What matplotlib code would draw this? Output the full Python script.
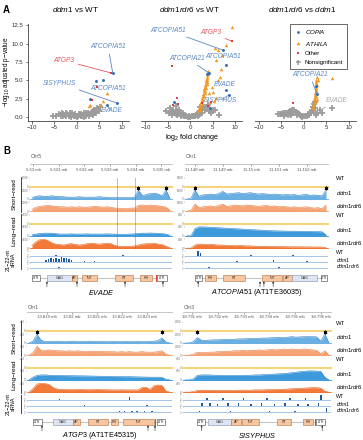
import numpy as np
import matplotlib
matplotlib.use('Agg')
import matplotlib.pyplot as plt
from matplotlib.patches import Rectangle
from matplotlib.lines import Line2D

plt.rcParams['font.family'] = ['Liberation Sans', 'DejaVu Sans']
plt.rcParams['mathtext.fontset'] = 'custom'
plt.rcParams['mathtext.rm'] = 'Liberation Sans'
plt.rcParams['mathtext.it'] = 'Liberation Sans:italic'

# ---------------- Panel A data ----------------
p1_copia_x = [8.0, 4.2, 5.8, 2.9, 6.6, 8.9]
p1_copia_y = [6.0, 4.9, 5.0, 2.5, 1.6, 1.9]
p1_athila_x = [6.7, 5.8, 5.3, 3.0, 2.8]
p1_athila_y = [3.3, 2.2, 1.6, 1.6, 1.5]
p1_other_x = [7.6, 4.4, 3.4]
p1_other_y = [6.0, 4.1, 2.3]
p1_gray_x = [-4.6, -4.0, -3.6, -3.2, -3.0, -2.7, -2.4, -2.1, -1.8, -1.5, -1.2, -0.9, -0.6, -0.3, 0.0, 0.3,
             0.6, 0.9, 1.2, 1.5, 1.8, 2.1, 2.4, 2.7, 3.0, 3.3, 3.6, 3.9, 4.2, 4.5, 4.8, 5.1, -2.5, -1.5,
             -0.5, 0.5, 1.5, 2.5, 3.5, -3.4, 2.0, 3.8, 4.4, 4.9, -1.0, 1.0, -5.4]
p1_gray_y = [0.15, 0.35, 0.2, 0.45, 0.1, 0.3, 0.15, 0.4, 0.1, 0.25, 0.05, 0.3, 0.1, 0.2, 0.05, 0.15,
             0.3, 0.1, 0.2, 0.05, 0.3, 0.15, 0.4, 0.2, 0.35, 0.5, 0.3, 0.7, 0.6, 0.9, 1.1, 1.4, 0.55, 0.5,
             0.45, 0.4, 0.5, 0.55, 0.8, 0.6, 0.6, 1.0, 1.2, 0.8, 0.55, 0.45, 0.1]

p2_copia_x = [7.3, 8.0, 4.1, 3.8, 8.0, 8.6, -3.6, 4.3]
p2_copia_y = [9.1, 7.1, 6.0, 5.8, 3.7, 3.0, 2.0, 1.2]
p2_athila_x = [9.3, 8.0, 5.7, 6.1, 5.5, 7.0, 6.6, 6.1, 4.8, 5.0, 5.7, 5.2, 4.3, 4.1, 6.8,
               1.8, 2.0, 2.2, 2.4, 2.5, 2.6, 2.8, 2.9, 3.0, 3.1, 3.2, 3.3, 3.4, 3.5, 3.6, 3.7, 3.9,
               2.3, 2.7, 3.0, 3.2, 3.4, 3.6, 3.8, 4.0, 2.1, 2.5, 2.9, 3.3, 3.7]
p2_athila_y = [12.2, 9.8, 7.7, 9.1, 9.4, 8.4, 5.4, 5.0, 4.1, 3.4, 2.6, 2.2, 2.0, 3.3, 6.5,
               0.8, 1.2, 1.6, 2.0, 2.3, 2.6, 2.9, 3.2, 3.5, 3.8, 4.1, 4.4, 4.7, 5.0, 5.3, 5.6, 5.9,
               1.4, 2.2, 2.8, 3.3, 3.9, 4.5, 5.1, 6.3, 0.9, 1.8, 2.5, 3.6, 4.8]
p2_other_x = [9.3, -4.1, -3.0, -3.9, -2.7, 2.5, 3.9, 4.5]
p2_other_y = [10.3, 6.9, 2.6, 1.6, 1.8, 1.9, 1.5, 2.0]
p2_gray_x = [-5.5, -4.8, -4.5, -4.2, -3.8, -3.5, -3.3, -3.0, -2.7, -2.4, -2.1, -1.8, -1.5, -1.2, -0.9,
             -0.6, -0.3, 0.0, 0.3, 0.6, 0.9, 1.2, 1.5, 1.8, 2.1, 2.4, 2.7, 3.0, 3.3, 3.6, 3.9, 4.2,
             4.6, 5.0, -4.0, -3.0, -2.0, -1.0, 1.0, 2.0, -2.6, 2.6, 5.5, 6.3, -3.3, 1.6, 2.2, -1.6]
p2_gray_y = [0.8, 0.5, 1.2, 0.7, 0.9, 0.6, 1.5, 0.8, 0.6, 0.5, 0.4, 0.3, 0.2, 0.15, 0.1,
             0.05, 0.1, 0.05, 0.1, 0.15, 0.2, 0.3, 0.4, 0.6, 0.8, 1.0, 1.2, 1.3, 1.0, 1.4, 1.6, 0.8,
             0.5, 1.0, 0.3, 0.3, 0.2, 0.1, 0.1, 0.3, 1.0, 0.5, 1.0, 0.3, 0.4, 0.15, 1.3, 0.6]

p3_copia_x = [2.9, 2.7]
p3_copia_y = [3.1, 4.2]
p3_athila_x = [6.2, 2.0, 2.1, 2.2, 2.3, 2.3, 2.4, 2.5, 2.5, 2.6, 2.6, 2.7, 2.7, 2.8, 2.8, 2.9,
               2.4, 2.6, 2.8, 3.0, 3.1, 2.9]
p3_athila_y = [5.3, 1.2, 1.5, 1.8, 2.1, 2.4, 2.7, 3.0, 3.3, 3.6, 3.9, 4.2, 4.5, 4.8, 5.1, 5.4,
               2.0, 2.8, 3.7, 4.4, 5.0, 2.5]
p3_other_x = [-2.4]
p3_other_y = [1.9]
p3_gray_x = [-5.8, -5.4, -5.0, -4.6, -4.2, -3.8, -3.4, -3.0, -2.6, -2.2, -1.8, -1.4, -1.0, -0.6, -0.2,
             0.2, 0.6, 1.0, 1.4, 1.8, 2.1, 2.3, 2.5, 2.0, 1.6, 2.4, 3.0, 3.6, 4.0, 6.2, -3.2, -2.5,
             -2.8, -1.6, -0.4, 0.8, -4.4, -3.6, 1.2, 2.8]
p3_gray_y = [0.4, 0.45, 0.4, 0.5, 0.55, 0.6, 0.7, 0.8, 1.0, 0.9, 0.7, 0.5, 0.35, 0.2, 0.1,
             0.1, 0.2, 0.35, 0.6, 1.0, 1.4, 1.8, 2.1, 0.8, 0.5, 1.2, 0.6, 0.9, 0.5, 1.2, 0.4, 0.5,
             0.3, 0.3, 0.05, 0.1, 0.2, 0.25, 0.25, 0.3]

volcano_titles = [r'$\it{ddm1}$ vs WT', r'$\it{ddm1rdr6}$ vs WT', r'$\it{ddm1rdr6}$ vs $\it{ddm1}$']

# label, color key, text position, point
p1_labels = [('ATCOPIA51', 'b', (6.9, 9.6), (8.0, 6.0)), ('ATGP3', 'r', (-2.9, 7.7), (7.6, 6.0)),
             ('SISYPHUS', 'b', (-3.8, 4.6), (8.9, 1.9)), ('ATCOPIA51', 'b', (6.9, 3.9), (5.8, 5.0)),
             ('EVADE', 'b', (7.7, 0.9), (6.6, 1.6))]
p2_labels = [('ATCOPIA51', 'b', (-5.0, 11.8), (7.3, 9.1)), ('ATGP3', 'r', (4.5, 11.5), (9.3, 10.3)),
             ('ATCOPIA21', 'b', (-0.7, 8.0), (4.1, 6.0)), ('ATCOPIA51', 'b', (7.3, 8.2), (8.0, 7.1)),
             ('EVADE', 'b', (7.7, 4.4), None), ('SISYPHUS', 'b', (6.8, 2.3), (8.6, 3.0))]
p3_labels = [('ATCOPIA21', 'b', (1.3, 5.8), (2.9, 3.1)), ('EVADE', 'g', (7.3, 2.3), (3.6, 0.9))]

# ---------------- Panel B data ----------------
evade_sr_ddm1 = [0.15, 0.3, 0.35, 0.3, 0.3, 0.35, 0.3, 0.25, 0.25, 0.2, 0.2, 0.2, 0.25, 0.2, 0.2, 0.2, 0.2, 0.25,
                 0.2, 0.2, 0.15, 0.15, 0.15, 0.15, 0.15, 0.15, 0.2, 1.0, 0.35, 0.5, 0.6, 0.65, 0.55, 0.35, 1.0, 0.0]
evade_sr_rdr6 = [0.2, 0.45, 0.55, 0.6, 0.65, 0.6, 0.55, 0.5, 0.5, 0.45, 0.5, 0.45, 0.5, 0.45, 0.45, 0.5, 0.55, 0.5,
                 0.45, 0.5, 0.45, 0.35, 0.35, 0.3, 0.3, 0.35, 0.35, 0.65, 0.7, 0.65, 0.7, 0.65, 0.6, 0.55, 0.45, 0.1]
evade_lr_ddm1 = [0.15, 0.2, 0.25, 0.3, 0.3, 0.3, 0.25, 0.2, 0.2, 0.2, 0.22, 0.2, 0.2, 0.2, 0.22, 0.2, 0.2, 0.2,
                 0.2, 0.22, 0.2, 0.2, 0.18, 0.18, 0.18, 0.2, 0.22, 0.28, 0.3, 0.3, 0.32, 0.3, 0.28, 0.25, 0.2, 0.05]
evade_lr_rdr6 = [0.3, 0.7, 0.95, 1.0, 0.85, 0.6, 0.45, 0.4, 0.35, 0.45, 0.5, 0.4, 0.35, 0.4, 0.5, 0.55, 0.5, 0.45,
                 0.5, 0.55, 0.5, 0.3, 0.2, 0.2, 0.2, 0.2, 0.25, 0.35, 0.45, 0.5, 0.5, 0.55, 0.45, 0.4, 0.2, 0.05]

copia51_sr_ddm1 = [0.0, 0.05, 1.0, 0.3, 0.45, 0.5, 0.55, 0.5, 0.6, 0.85, 0.55, 0.6, 0.65, 0.7, 0.6, 0.65, 0.7, 0.6,
                   0.55, 0.6, 0.55, 0.5, 0.55, 0.5, 0.45, 0.5, 0.45, 0.5, 0.4, 0.45, 0.5, 0.4, 0.45, 0.4, 0.35, 1.0]
copia51_sr_rdr6 = [0.0, 0.1, 0.8, 0.4, 0.5, 0.55, 0.6, 0.5, 0.65, 0.8, 0.55, 0.6, 0.7, 0.65, 0.6, 0.7, 0.65, 0.6,
                   0.55, 0.6, 0.65, 0.55, 0.6, 0.5, 0.55, 0.5, 0.45, 0.5, 0.4, 0.45, 0.5, 0.4, 0.35, 0.4, 0.3, 0.7]
copia51_lr_ddm1 = [0.0, 0.0, 0.8, 1.0, 1.0, 0.98, 0.95, 0.93, 0.9, 0.88, 0.85, 0.83, 0.8, 0.78, 0.75, 0.72, 0.7, 0.68,
                   0.65, 0.63, 0.6, 0.58, 0.56, 0.55, 0.54, 0.53, 0.52, 0.52, 0.51, 0.5, 0.5, 0.5, 0.48, 0.47, 0.45, 0.1]
copia51_lr_rdr6 = [0.0, 0.0, 0.35, 0.45, 0.45, 0.4, 0.42, 0.38, 0.35, 0.35, 0.3, 0.3, 0.28, 0.3, 0.28, 0.25, 0.25, 0.22,
                   0.2, 0.2, 0.2, 0.18, 0.18, 0.17, 0.17, 0.16, 0.15, 0.15, 0.15, 0.15, 0.14, 0.14, 0.13, 0.13, 0.12, 0.05]

atgp3_sr_ddm1 = [0.0, 0.2, 0.95, 0.3, 0.15, 0.18, 0.15, 0.2, 0.18, 0.15, 0.18, 0.2, 0.15, 0.18, 0.15, 0.2, 0.18, 0.15,
                 0.18, 0.15, 0.15, 0.18, 0.15, 0.15, 0.18, 0.15, 0.15, 0.18, 0.15, 0.15, 0.18, 0.2, 0.25, 0.55, 0.1, 0.0]
atgp3_sr_rdr6 = [0.0, 0.3, 1.0, 0.5, 0.55, 0.6, 0.55, 0.5, 0.5, 0.45, 0.5, 0.45, 0.5, 0.45, 0.4, 0.45, 0.45, 0.4,
                 0.45, 0.4, 0.4, 0.4, 0.35, 0.4, 0.35, 0.4, 0.35, 0.35, 0.4, 0.35, 0.35, 0.35, 0.4, 0.5, 0.1, 0.0]
atgp3_lr_ddm1 = [0.0, 0.3, 0.5, 0.55, 0.55, 0.52, 0.5, 0.5, 0.48, 0.48, 0.47, 0.46, 0.45, 0.45, 0.44, 0.43, 0.42, 0.41,
                 0.4, 0.4, 0.39, 0.38, 0.37, 0.36, 0.35, 0.35, 0.34, 0.33, 0.32, 0.31, 0.3, 0.3, 0.3, 0.28, 0.05, 0.0]
atgp3_lr_rdr6 = [0.0, 0.4, 0.9, 1.0, 0.95, 0.85, 0.5, 0.35, 0.3, 0.3, 0.28, 0.28, 0.3, 0.3, 0.28, 0.27, 0.28, 0.3,
                 0.28, 0.27, 0.26, 0.25, 0.25, 0.26, 0.25, 0.25, 0.25, 0.24, 0.5, 0.55, 0.3, 0.7, 0.8, 0.75, 0.1, 0.0]

sisyphus_sr_ddm1 = [0.0, 0.0, 0.15, 0.6, 0.3, 0.3, 0.32, 0.35, 0.35, 0.38, 0.4, 0.4, 0.42, 0.45, 0.45, 0.48, 0.5, 0.5,
                    0.52, 0.55, 0.55, 0.58, 0.6, 0.62, 0.6, 0.65, 0.7, 0.65, 0.68, 0.7, 0.72, 0.7, 0.68, 0.2, 1.0, 0.0]
sisyphus_sr_rdr6 = [0.0, 0.0, 0.1, 0.35, 0.3, 0.3, 0.35, 0.35, 0.4, 0.42, 0.45, 0.45, 0.5, 0.5, 0.55, 0.5, 0.55, 0.55,
                    0.6, 0.55, 0.6, 0.65, 0.6, 0.65, 0.7, 0.65, 0.7, 0.65, 0.65, 0.7, 0.65, 0.6, 0.55, 0.15, 0.5, 0.0]
sisyphus_lr_ddm1 = [0.0, 0.0, 0.1, 0.5, 0.55, 0.55, 0.55, 0.52, 0.52, 0.5, 0.5, 0.5, 0.5, 0.5, 0.5, 0.52, 0.52, 0.55,
                    0.55, 0.58, 0.6, 0.62, 0.65, 0.68, 0.7, 0.75, 0.8, 0.85, 0.92, 0.95, 1.0, 1.0, 0.98, 0.95, 0.3, 0.0]
sisyphus_lr_rdr6 = [0.0, 0.0, 0.05, 0.2, 0.22, 0.22, 0.2, 0.2, 0.2, 0.2, 0.2, 0.2, 0.2, 0.22, 0.22, 0.22, 0.22, 0.25,
                    0.25, 0.25, 0.28, 0.28, 0.3, 0.3, 0.32, 0.35, 0.38, 0.4, 0.42, 0.45, 0.48, 0.5, 0.5, 0.45, 0.1, 0.0]

# sRNA spikes: positions (kb) and heights for WT, ddm1, ddm1rdr6
evade_srna_pos = [[5630.9, 5633.5], [5630.5, 5630.6, 5630.7, 5630.8, 5630.9, 5631.0, 5631.1, 5631.2, 5631.3,
                                      5631.4, 5631.5, 5632.0, 5632.4], [5631.0, 5634.5]]
evade_srna_h = [[0.15, 0.1], [0.4, 0.55, 0.7, 0.5, 0.85, 0.6, 1.0, 0.7, 0.9, 0.5, 0.45, 0.2, 0.15], [0.15, 0.1]]
copia51_srna_pos = [[11148.1, 11148.2, 11150.0, 11151.5], [11149.5, 11150.8, 11152.0], [11148.5, 11151.0]]
copia51_srna_h = [[0.9, 0.5, 0.15, 0.2], [0.2, 0.3, 0.2], [0.15, 0.15]]
atgp3_srna_pos = [[13819.5, 13822.3], [13820.5, 13823.0], [13821.9, 13822.1, 13822.4, 13822.6, 13822.9, 13823.2]]
atgp3_srna_h = [[0.1, 0.5], [0.1, 0.1], [0.2, 0.25, 0.3, 0.2, 0.25, 0.3]]
sisyphus_srna_pos = [[18791.6, 18792.2, 18793.0, 18793.9, 18794.8, 18795.4, 18796.0],
                     [18791.4, 18791.7, 18792.0, 18792.4, 18792.8, 18793.3, 18793.7, 18794.2, 18794.6, 18795.1,
                      18795.5, 18795.9],
                     [18791.3, 18792.5, 18794.0, 18795.0, 18796.2]]
sisyphus_srna_h = [[0.3, 0.4, 0.3, 0.35, 0.3, 0.3, 1.0],
                   [0.5, 0.6, 0.4, 0.5, 0.6, 0.45, 0.5, 0.4, 0.5, 0.4, 0.45, 0.5],
                   [0.3, 0.2, 0.2, 0.25, 0.9]]

# TE features (kb): name, start, end
evade_feats = [('LTR', 5629.96, 5630.27), ('GAG', 5630.54, 5631.52), ('AP', 5631.52, 5631.71),
               ('INT', 5631.91, 5632.49), ('RT', 5633.19, 5633.89), ('RH', 5634.16, 5634.63), ('LTR', 5634.82, 5635.21)]
copia51_feats = [('LTR', 11148.0, 11148.25), ('RH', 11148.36, 11148.75), ('RT', 11149.0, 11149.79),
                 ('INT', 11150.39, 11151.11), ('AP', 11151.14, 11151.46), ('GAG', 11151.46, 11152.36),
                 ('LTR', 11152.5, 11152.72)]
atgp3_feats = [('LTR', 13818.44, 13818.8), ('GAG', 13819.24, 13820.04), ('AP', 13820.04, 13820.32),
               ('RT', 13820.64, 13821.44), ('RH', 13821.56, 13821.84), ('INT', 13822.04, 13823.28),
               ('LTR', 13823.4, 13823.72)]
sisyphus_feats = [('LTR', 18791.19, 18791.5), ('GAG', 18791.61, 18792.53), ('AP', 18792.53, 18792.91),
                  ('INT', 18792.95, 18793.6), ('RT', 18794.28, 18794.85), ('RH', 18795.31, 18795.69),
                  ('LTR', 18795.81, 18796.15)]

# ---------------- styling ----------------
W, H = 363, 440
fig = plt.figure(figsize=(W / 100, H / 100), dpi=100)

C_BLUE = '#2c6db3'
C_ORANGE = '#f5961f'
C_RED = '#e23c46'
C_GRAY = '#9c9c9c'
LBL = {'b': '#5a86c4', 'r': '#e8555c', 'g': '#a8a8a8'}


def add_ax(x0, y0, x1, y1):
    return fig.add_axes([x0 / W, 1 - y1 / H, (x1 - x0) / W, (y1 - y0) / H])


def ftext(x, y, s, **kw):
    return fig.text(x / W, 1 - y / H, s, **kw)


def fline(xs, ys, **kw):
    fig.add_artist(Line2D([x / W for x in xs], [1 - y / H for y in ys], transform=fig.transFigure, **kw))


# ---------------- Panel A ----------------
panels = [(p1_gray_x, p1_gray_y, p1_athila_x, p1_athila_y, p1_other_x, p1_other_y, p1_copia_x, p1_copia_y, p1_labels),
          (p2_gray_x, p2_gray_y, p2_athila_x, p2_athila_y, p2_other_x, p2_other_y, p2_copia_x, p2_copia_y, p2_labels),
          (p3_gray_x, p3_gray_y, p3_athila_x, p3_athila_y, p3_other_x, p3_other_y, p3_copia_x, p3_copia_y, p3_labels)]
for i, (gx, gy, ax_, ay_, ox, oy, cx, cy, labs) in enumerate(panels):
    left = 27.5 + 113.5 * i
    ax = add_ax(left, 20, left + 101, 120.7)
    ax.set_xlim(-11, 11.5)
    ax.set_ylim(-0.5, 13.2)
    ax.plot(gx, gy, '+', color=C_GRAY, ms=4.2, mew=1.3, zorder=2)
    ax.plot(ax_, ay_, '^', color=C_ORANGE, ms=2.5, mew=0, zorder=3)
    ax.plot(ox, oy, 's', color=C_RED, ms=2.1, mew=0, zorder=4)
    ax.plot(cx, cy, 'o', color=C_BLUE, ms=2.1, mew=0, zorder=5)
    for name, ck, tpos, pt in labs:
        col = LBL[ck]
        if pt is None:
            ax.text(tpos[0], tpos[1], name, color=col, fontsize=4.8, style='italic', ha='center', va='center')
        else:
            ax.annotate(name, xy=pt, xytext=tpos, color=col, fontsize=4.8, style='italic', ha='center',
                        va='center', arrowprops=dict(arrowstyle='-', color=col, lw=0.6, shrinkA=1, shrinkB=0))
    ax.set_xticks([-10, -5, 0, 5, 10])
    ax.set_xticklabels(['\u221210', '\u22125', '0', '5', '10'])
    ax.tick_params(labelsize=4.4, length=1.8, width=0.5, pad=1.5, colors='#333333')
    for s in ['top', 'right']:
        ax.spines[s].set_visible(False)
    ax.spines['bottom'].set_linewidth(0.6)
    ax.spines['bottom'].set_color('#444444')
    if i == 0:
        ax.set_yticks([0, 2.5, 5, 7.5, 10, 12.5])
        ax.set_yticklabels(['0.0', '2.5', '5.0', '7.5', '10.0', '12.5'])
        ax.tick_params(axis='y', pad=1.2)
        ax.spines['left'].set_linewidth(0.6)
        ax.spines['left'].set_color('#444444')
        ax.spines['left'].set_bounds(-0.5, 12.7)
    else:
        ax.spines['left'].set_visible(False)
        ax.set_yticks([])
    if i == 1:
        ax.set_xlabel('log$_2$ fold change', fontsize=5.2, labelpad=1.5)
    ftext(left + 48, 10, volcano_titles[i], fontsize=5.8, ha='center', va='center')

ftext(6.5, 72, '\u2212log$_{10}$ adjusted p\u2212value', fontsize=4.7, rotation=90, ha='center', va='center')

handles = [Line2D([], [], ls='', marker='o', color=C_BLUE, ms=2.0, mew=0),
           Line2D([], [], ls='', marker='^', color=C_ORANGE, ms=2.6, mew=0),
           Line2D([], [], ls='', marker='s', color=C_RED, ms=2.0, mew=0),
           Line2D([], [], ls='', marker='+', color=C_GRAY, ms=3.6, mew=1.1)]
leg = fig.legend(handles, [r'$\it{COPIA}$', r'$\it{ATHILA}$', 'Other', 'Nonsignificant'], loc='upper left',
                 bbox_to_anchor=(290 / W, 1 - 24 / H), fontsize=4.4, frameon=True, fancybox=False,
                 edgecolor='#222222', borderpad=0.7, handlelength=1.2, labelspacing=0.55, handletextpad=0.5,
                 borderaxespad=0)
leg.get_frame().set_linewidth(0.6)

ftext(3, 10, 'A', fontsize=7, fontweight='bold', va='center')
ftext(3, 151, 'B', fontsize=7, fontweight='bold', va='center')

# ---------------- Panel B ----------------
COV_COL = [('#5aa6df', '#2a80c6'), ('#f49a68', '#ec7535'), ('#2a8fd8', '#1b7cc4'), ('#f26a22', '#e45a12')]
YELLOW = '#f6d47c'

loci = [
    dict(px=(30, 172), chrom='Chr5', chr_y=157, axis_y=164, top=177, gene=(274, 287), title_y=292,
         title=r'$\it{EVADE}$', xlim=(5629.88, 5635.41), ticks=[5630, 5631, 5632, 5633, 5634, 5635],
         tl=['5.63 mb', '5.631 mb', '5.632 mb', '5.633 mb', '5.634 mb', '5.635 mb'],
         cov=[evade_sr_ddm1, evade_sr_rdr6, evade_lr_ddm1, evade_lr_rdr6], stars=[27, 34],
         srna=(evade_srna_pos, evade_srna_h), feats=evade_feats, red=5634.79,
         arrows=[5630.54, 5631.71, 5633.58, 5635.06], dotted=[5633.27, 5633.97], side='left',
         ylab=('2000', '4000')),
    dict(px=(185, 328), chrom='Chr1', chr_y=157, axis_y=164, top=177, gene=(274, 287), title_y=293,
         title=r'$\it{ATCOPIA51}$ (AT1TE36035)', xlim=(11147.64, 11152.75),
         ticks=[11148, 11149, 11150, 11151, 11152],
         tl=['11.148 mb', '11.149 mb', '11.15 mb', '11.151 mb', '11.152 mb'],
         cov=[copia51_sr_ddm1, copia51_sr_rdr6, copia51_lr_ddm1, copia51_lr_rdr6], stars=[2, 35],
         srna=(copia51_srna_pos, copia51_srna_h), feats=copia51_feats, red=None,
         arrows=[11148.11, 11150.32, 11150.46, 11150.79], dotted=[], side='right', ylab=('8000', '900')),
    dict(px=(27, 172), chrom='Chr1', chr_y=307, axis_y=311, top=321, gene=(418, 431), title_y=435,
         title=r'$\it{ATGP3}$ (AT1TE45315)', xlim=(13818.2, 13824.0),
         ticks=[13819, 13820, 13821, 13822, 13823],
         tl=['13.819 mb', '13.82 mb', '13.821 mb', '13.822 mb', '13.823 mb'],
         cov=[atgp3_sr_ddm1, atgp3_sr_rdr6, atgp3_lr_ddm1, atgp3_lr_rdr6], stars=[2, 33],
         srna=(atgp3_srna_pos, atgp3_srna_h), feats=atgp3_feats, red=13823.3,
         arrows=[13818.8, 13823.04, 13823.32], dotted=[], side='left', ylab=('400', '400')),
    dict(px=(183, 331), chrom='Chr3', chr_y=307, axis_y=311, top=321, gene=(418, 431), title_y=435,
         title=r'$\it{SISYPHUS}$', xlim=(18790.66, 18796.38),
         ticks=[18791, 18792, 18793, 18794, 18795, 18796],
         tl=['18.791 mb', '18.792 mb', '18.793 mb', '18.794 mb', '18.795 mb', '18.796 mb'],
         cov=[sisyphus_sr_ddm1, sisyphus_sr_rdr6, sisyphus_lr_ddm1, sisyphus_lr_rdr6], stars=[3, 34],
         srna=(sisyphus_srna_pos, sisyphus_srna_h), feats=sisyphus_feats, red=18795.77,
         arrows=[18791.38, 18796.04], dotted=[], side='right', ylab=('2000', '400')),
]

ROW_STEP = 12.3
ROW_H = 10.0
SR_H = 6.3

for L in loci:
    x0, x1 = L['px']
    xlim = L['xlim']
    top = L['top']
    nb = len(L['cov'][0])
    edges = np.linspace(xlim[0], xlim[1], nb + 1)
    centers = 0.5 * (edges[:-1] + edges[1:])

    # genomic axis
    gax = add_ax(x0, L['axis_y'] - 0.5, x1, L['axis_y'] + 0.5)
    gax.set_xlim(xlim)
    gax.set_yticks([])
    for s in ['top', 'left', 'right']:
        gax.spines[s].set_visible(False)
    gax.spines['bottom'].set_color('#bbbbbb')
    gax.spines['bottom'].set_linewidth(0.6)
    gax.set_xticks(L['ticks'])
    gax.set_xticklabels(L['tl'])
    gax.tick_params(axis='x', labelsize=3.1, length=1.2, width=0.4, pad=1.2, colors='#555555')
    gax.patch.set_alpha(0)
    ftext(x0 + 1, L['chr_y'], L['chrom'], fontsize=3.6, color='#555555', va='center')

    # coverage rows: WT, ddm1, ddm1rdr6 (short) / WT, ddm1, ddm1rdr6 (long)
    cov_iter = iter(zip(L['cov'], COV_COL))
    for r in range(6):
        y0 = top + r * ROW_STEP
        ax = add_ax(x0, y0, x1, y0 + ROW_H)
        ax.set_xlim(xlim)
        ax.set_ylim(-0.04, 1.08)
        ax.set_xticks([])
        for s in ax.spines.values():
            s.set_visible(False)
        ax.set_yticks([0, 1])
        ax.set_yticklabels(['0', L['ylab'][0] if r < 3 else L['ylab'][1]])
        ax.tick_params(axis='y', labelsize=2.2, length=0.8, width=0.3, pad=0.5, colors='#777777')
        ax.patch.set_alpha(0)
        if r in (0, 3):
            ax.axhline(0, color=YELLOW, lw=1.5, clip_on=False)
        else:
            vals, (cl, cd) = next(cov_iter)
            ax.fill_between(centers, 0, vals, color=cl, lw=0, alpha=0.9)
            ax.plot(centers, vals, color=cd, lw=0.4)
            ax.axhline(0, color=cl, lw=0.6, clip_on=False)
            if r == 1:
                for b in L['stars']:
                    ax.plot(centers[b], 1.22, marker=(6, 2, 0), ms=2.6, mew=0.6, color='k', clip_on=False)

    # sRNA rows
    sr_top = top + 5 * ROW_STEP + ROW_H + 2
    pos_l, h_l = L['srna']
    for k in range(3):
        y0 = sr_top + k * SR_H
        ax = add_ax(x0, y0, x1, y0 + SR_H)
        ax.set_xlim(xlim)
        ax.set_ylim(-0.25, 1.05)
        ax.set_xticks([])
        for s in ax.spines.values():
            s.set_visible(False)
        ax.set_yticks([0, 1])
        ax.set_yticklabels(['0', '5'])
        ax.tick_params(axis='y', labelsize=1.8, length=0.6, width=0.3, pad=0.4, colors='#888888')
        ax.patch.set_alpha(0)
        ax.axhline(0, color='#a6c6e8', lw=0.7)
        ax.bar(pos_l[k], h_l[k], width=(xlim[1] - xlim[0]) / 90, color='#1f5a9c', lw=0, align='center')

    # dotted lines
    if L['dotted']:
        dax = add_ax(x0, top, x1, top + 5 * ROW_STEP + ROW_H)
        dax.set_xlim(xlim)
        dax.set_ylim(0, 1)
        dax.axis('off')
        for d in L['dotted']:
            dax.axvline(d, ls=(0, (1.2, 1.2)), color='#666666', lw=0.6)

    # gene model
    gm = add_ax(x0, L['gene'][0], x1, L['gene'][1])
    gm.set_xlim(xlim)
    gm.set_ylim(0, 1)
    gm.axis('off')
    feats = L['feats']
    gm.plot([feats[0][1], feats[-1][2]], [0.7, 0.7], color='#c4c4c4', lw=0.8, zorder=0)
    for name, s, e in feats:
        if name == 'LTR':
            fc, ec = 'white', '#666666'
        elif name == 'GAG':
            fc, ec = '#dfe4f2', '#9aa3b8'
        else:
            fc, ec = '#f6c6a0', '#c2865a'
        gm.add_patch(Rectangle((s, 0.48), e - s, 0.44, fc=fc, ec=ec, lw=0.5, zorder=2))
        gm.text((s + e) / 2, 0.7, name, fontsize=2.6, ha='center', va='center', color='#333333', zorder=3)
    if L['red'] is not None:
        gm.plot([L['red'], L['red']], [0.44, 0.96], color='#e03a3a', lw=0.7, zorder=4)
    for a in L['arrows']:
        gm.annotate('', xy=(a, 0.44), xytext=(a, 0.02),
                    arrowprops=dict(arrowstyle='-|>', lw=0.4, color='#222222', mutation_scale=2.2,
                                    shrinkA=0, shrinkB=0))
    ftext((x0 + x1) / 2, L['title_y'], L['title'], fontsize=5.2, ha='center', va='center')

    # side labels
    if L['side'] == 'left':
        groups = [('Short\u2212read', top, top + 2 * ROW_STEP + ROW_H),
                  ('Long\u2212read', top + 3 * ROW_STEP, top + 5 * ROW_STEP + ROW_H)]
        for txt, a, b in groups:
            ftext(14, (a + b) / 2, txt, fontsize=4.6, rotation=90, ha='center', va='center')
            fline([21, 21], [a, b], color='#222222', lw=0.6)
        a, b = sr_top, sr_top + 3 * SR_H
        ftext(11, (a + b) / 2, '21\u221222-nt\nsRNA', fontsize=4.0, rotation=90, ha='center', va='center',
              linespacing=1.0)
        fline([21, 21], [a, b], color='#222222', lw=0.6)
    else:
        names = ['WT', r'$\it{ddm1}$', r'$\it{ddm1rdr6}$']
        for r in range(6):
            yc = top + r * ROW_STEP + (2.0 if r % 3 == 0 else 4.0)
            ftext(336, yc, names[r % 3], fontsize=4.2, ha='left', va='center')
        for k in range(3):
            ftext(336, sr_top + 2.5 + k * 6.6, names[k], fontsize=3.7, ha='left', va='center')

fig.savefig('out.png', dpi=100)
